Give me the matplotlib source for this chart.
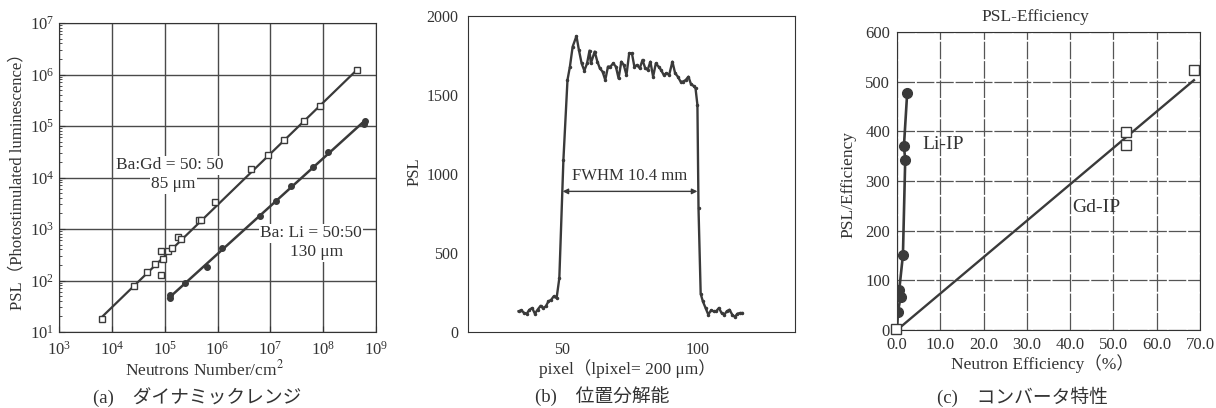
import numpy as np
import matplotlib
matplotlib.use("Agg")
import matplotlib.pyplot as plt
from matplotlib.ticker import LogLocator, NullFormatter, NullLocator

plt.rcParams['font.family'] = ['Liberation Serif', 'Noto Sans CJK JP', 'DejaVu Sans']
plt.rcParams['mathtext.fontset'] = 'stix'
INK = '#333333'
plt.rcParams['text.color'] = INK
plt.rcParams['axes.edgecolor'] = INK
plt.rcParams['xtick.color'] = INK
plt.rcParams['ytick.color'] = INK

# (a) dynamic range
gd_n = [6.5e3, 2.6e4, 4.7e4, 6.6e4, 8.5e4, 8.5e4, 9.3e4, 1.17e5, 1.38e5, 1.78e5,
        2.0e5, 4.5e5, 4.9e5, 8.9e5, 4.4e6, 8.9e6, 1.8e7, 4.4e7, 8.9e7, 4.4e8]
gd_psl = [18, 79, 144, 209, 128, 380, 263, 370, 427, 690,
          630, 1500, 1500, 3300, 14600, 27500, 54000, 123000, 246000, 1.2e6]
gd_fit_n = [6.3e3, 4.6e8]
gd_fit_psl = [19, 1.3e6]

li_n = [1.26e5, 1.26e5, 2.45e5, 6.2e5, 1.23e6, 6.3e6, 1.26e7, 2.5e7, 6.3e7, 1.26e8, 6.0e8, 6.3e8]
li_psl = [53, 45, 88, 187, 425, 1780, 3460, 6800, 15900, 30700, 110000, 125000]
li_fit_n = [1.18e5, 6.4e8]
li_fit_psl = [45, 1.32e5]
decades_x = [1e3, 1e4, 1e5, 1e6, 1e7, 1e8, 1e9]
decades_y = [1e1, 1e2, 1e3, 1e4, 1e5, 1e6, 1e7]

# (b) position resolution profile
pix = [34.0, 35.0, 36.1, 37.0, 38.0, 39.0, 40.0, 41.0, 42.1, 43.0, 44.0, 45.0, 46.0, 46.9,
       48.0, 49.0, 50.5, 52.0, 52.9, 53.9, 55.3, 56.2, 57.2, 58.2, 59.2, 60.1, 60.6, 62.0,
       63.0, 63.9, 64.9, 65.9, 66.9, 67.8, 68.8, 69.8, 70.8, 71.8, 72.7, 73.7, 74.7, 75.7,
       76.6, 77.6, 78.6, 79.6, 80.6, 81.5, 82.5, 83.5, 84.5, 85.5, 86.4, 87.4, 88.4, 89.4,
       90.6, 91.6, 92.6, 93.6, 94.5, 95.5, 96.5, 97.4, 98.4, 99.1, 99.8, 100.2, 101.0,
       101.8, 102.8, 103.8, 104.8, 105.8, 106.7, 107.7, 108.7, 109.7, 110.6, 111.6, 112.6,
       113.6, 114.5, 115.5, 116.3]
psl_b = [131, 137, 120, 116, 141, 152, 116, 141, 166, 152, 162, 194, 204, 225,
         215, 341, 1090, 1595, 1680, 1806, 1873, 1785, 1700, 1654, 1700, 1781, 1700, 1775,
         1711, 1669, 1648, 1595, 1680, 1680, 1700, 1680, 1605, 1711, 1690, 1627, 1764, 1764,
         1680, 1690, 1669, 1722, 1669, 1659, 1711, 1616, 1700, 1680, 1659, 1627, 1638, 1627,
         1711, 1638, 1616, 1585, 1585, 1595, 1616, 1570, 1557, 1543, 1437, 784, 242,
         194, 152, 110, 137, 131, 131, 152, 120, 110, 131, 141, 110,
         95, 116, 120, 120]

# (c) converter characteristics
li_eff = [0.0, 0.23, 0.82, 0.52, 1.37, 1.9, 1.6, 2.35]
li_pe = [0, 37, 66, 81, 151, 343, 370, 477]
gd_eff = [-0.2, 52.9, 52.9, 68.6]
gd_pe = [2, 399, 372, 524]
gd_line_eff = [0.0, 68.6]
gd_line_pe = [0, 503]
eff_ticks = [0, 10, 20, 30, 40, 50, 60, 70]
pe_ticks = [0, 100, 200, 300, 400, 500, 600]

W, H = 1216, 408
fig = plt.figure(figsize=(W / 100, H / 100), dpi=100)

def box(l, t, r, b):
    return [l / W, 1 - b / H, (r - l) / W, (b - t) / H]

def ftext(x, y, s, **kw):
    fig.text(x / W, 1 - y / H, s, ha='center', va='center', **kw)

LINE = '#3a3a3a'
white = dict(fc='white', ec='none', pad=1)

# ---- panel a
ax = fig.add_axes(box(59, 23, 376, 332))
ax.set_xscale('log')
ax.set_yscale('log')
ax.set_xticks(decades_x)
ax.set_yticks(decades_y)
ax.set_xlim(1e3, 1e9)
ax.set_ylim(1e1, 1e7)
ax.grid(True, which='major', color='#4a4a4a', lw=1.0)
ax.plot(gd_fit_n, gd_fit_psl, color=LINE, lw=1.6, zorder=3)
ax.plot(gd_n, gd_psl, 's', ms=5, mfc='white', mec=LINE, mew=1.0, zorder=4)
ax.plot(li_fit_n, li_fit_psl, color=LINE, lw=1.8, zorder=3)
ax.plot(li_n, li_psl, 'o', ms=4, mfc=LINE, mec=LINE, zorder=4)
ax.yaxis.set_minor_locator(LogLocator(base=10, subs=np.arange(2, 10), numticks=20))
ax.yaxis.set_minor_formatter(NullFormatter())
ax.xaxis.set_minor_locator(NullLocator())
ax.xaxis.set_minor_formatter(NullFormatter())
ax.tick_params(which='both', direction='in', labelsize=12)
ax.tick_params(which='major', length=4)
ax.tick_params(which='minor', length=2.5)
ax.tick_params(axis='x', pad=6)
ax.text(1.26e5, 1.74e4, 'Ba:Gd = 50: 50', fontsize=12.5, ha='center', va='center',
        bbox=white, zorder=5)
ax.text(1.45e5, 7.4e3, '85 μm', fontsize=12.5, ha='center', va='center',
        bbox=white, zorder=5)
ax.text(5.9e7, 8.3e2, 'Ba: Li = 50:50', fontsize=12.5, ha='center', va='center',
        bbox=white, zorder=5)
ax.text(7.4e7, 3.55e2, '130 μm', fontsize=12.5, ha='center', va='center',
        bbox=white, zorder=5)
ftext(17, 178, 'PSL（Photostimulated luminescence）', rotation=90, fontsize=12)
ftext(205, 369, 'Neutrons Number/cm$^2$', fontsize=12.5)
ftext(197, 397, '(a)\u3000ダイナミックレンジ', fontsize=13.5)

# ---- panel b
bx = fig.add_axes(box(468, 16, 795, 332))
bx.set_xlim(15.4, 135.7)
bx.set_ylim(0, 2000)
bx.plot(pix, psl_b, color=LINE, lw=1.7, marker='.', ms=3)
bx.set_xticks([50, 100])
bx.set_yticks([0, 500, 1000, 1500, 2000])
bx.tick_params(direction='in', length=0, labelsize=11.5, pad=7)
bx.annotate('', xy=(50.2, 890), xytext=(99.8, 890),
            arrowprops=dict(arrowstyle='<|-|>', color=LINE, lw=1.0,
                            mutation_scale=8, shrinkA=0, shrinkB=0))
bx.text(75, 985, 'FWHM 10.4 mm', fontsize=12, ha='center', va='center')
ftext(415, 172, 'PSL', rotation=90, fontsize=12)
ftext(627, 369, 'pixel（lpixel= 200 μm）', fontsize=12.5)
ftext(602, 397, '(b)\u3000位置分解能', fontsize=13.5)

# ---- panel c
cx = fig.add_axes(box(897, 32, 1200, 330))
cx.set_xlim(0, 70)
cx.set_ylim(0, 600)
cx.grid(True, color='#555555', lw=0.9, ls=(0, (14, 1.5)))
cx.plot(li_eff, li_pe, color=LINE, lw=1.9, zorder=3)
cx.plot(li_eff[1:], li_pe[1:], 'o', ms=7, mfc=LINE, mec=LINE, zorder=4)
cx.plot(gd_line_eff, gd_line_pe, color=LINE, lw=1.7, zorder=3)
cx.plot(gd_eff, gd_pe, 's', ms=6.5, mfc='white', mec=LINE, mew=1.0, zorder=4, clip_on=False)
cx.set_xticks(eff_ticks)
cx.set_xticklabels(['%.1f' % v for v in eff_ticks])
cx.set_yticks(pe_ticks)
cx.tick_params(direction='in', length=0, labelsize=12, pad=5)
cx.text(10.6, 374, 'Li-IP', fontsize=14, ha='center', va='center')
cx.text(46, 247, 'Gd-IP', fontsize=14, ha='center', va='center')
ftext(1035, 17, 'PSL-Efficiency', fontsize=12.5)
ftext(848, 185, 'PSL/Efficiency', rotation=90, fontsize=12.5)
ftext(1042, 364, 'Neutron Efficiency（%）', fontsize=12.5)
ftext(1022, 397, '(c)\u3000コンバータ特性', fontsize=13.5)

fig.savefig('out.png', dpi=100, facecolor='white')
